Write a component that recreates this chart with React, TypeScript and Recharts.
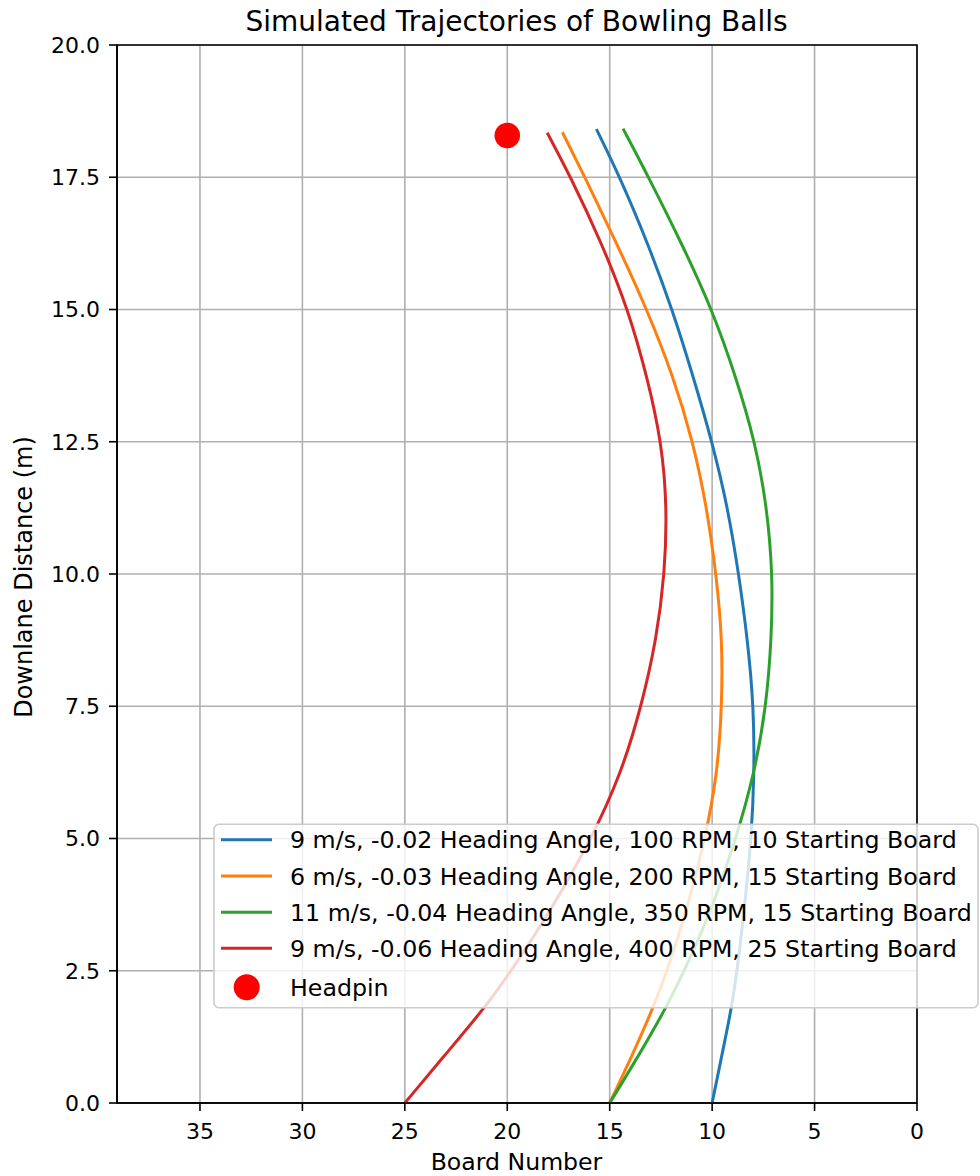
import React from 'react';
import { ComposedChart, Line, Scatter, XAxis, YAxis, CartesianGrid, ReferenceArea } from 'recharts';

// [downlane distance (m), board number]
const ball1: [number, number][] = [[0, 10], [0.95, 9.5], [1.8, 9.05], [2.5, 8.78], [3.59, 8.45], [5.0, 8.08], [6.24, 7.94], [7.5, 7.97], [8.76, 8.27], [10, 8.7], [11.28, 9.25], [12.5, 10.0], [13.74, 10.93], [15, 11.94], [16.26, 13.15], [17.5, 14.5], [18.41, 15.65]];
const ball2: [number, number][] = [[0, 15], [0.95, 13.84], [1.8, 12.88], [2.5, 12.19], [3.59, 11.27], [5.0, 10.33], [6.24, 9.74], [7.5, 9.52], [8.76, 9.5], [10, 9.8], [11.28, 10.27], [12.5, 10.93], [13.74, 11.9], [15, 13.18], [16.26, 14.67], [17.5, 16.21], [18.35, 17.31]];
const ball3: [number, number][] = [[0, 15], [0.95, 13.5], [1.8, 12.25], [2.5, 11.36], [3.59, 10.08], [5.0, 8.83], [6.24, 7.93], [7.5, 7.36], [8.76, 7.1], [10, 7.04], [11.28, 7.33], [12.5, 7.9], [13.74, 8.85], [15, 10.0], [16.26, 11.5], [17.5, 13.1], [18.42, 14.35]];
const ball4: [number, number][] = [[0, 25], [0.95, 22.95], [1.8, 21.1], [2.5, 19.8], [3.59, 17.95], [5.0, 15.88], [6.24, 14.43], [7.5, 13.45], [8.76, 12.72], [10, 12.31], [11.28, 12.2], [12.5, 12.47], [13.74, 13.18], [15, 14.1], [16.26, 15.4], [17.5, 16.9], [18.34, 18.05]];
const headpin: [number, number][] = [[18.288, 20]];

const seriesNames = [
  '9 m/s, -0.02 Heading Angle, 100 RPM, 10 Starting Board',
  '6 m/s, -0.03 Heading Angle, 200 RPM, 15 Starting Board',
  '11 m/s, -0.04 Heading Angle, 350 RPM, 15 Starting Board',
  '9 m/s, -0.06 Heading Angle, 400 RPM, 25 Starting Board',
];
const headpinName = 'Headpin';
const seriesColors = ['#1f77b4', '#ff7f0e', '#2ca02c', '#d62728'];

const boardTicks = [0, 5, 10, 15, 20, 25, 30, 35];
const distanceTicks = [0, 2.5, 5, 7.5, 10, 12.5, 15, 17.5, 20];
const boardDomain: [number, number] = [0, 39.05];
const distanceDomain: [number, number] = [0, 20];

const title = 'Simulated Trajectories of Bowling Balls';
const xLabel = 'Board Number';
const yLabel = 'Downlane Distance (m)';

const toPoints = (arr: [number, number][]) => arr.map(([d, b]) => ({ board: b, dist: d }));
const allSeries = [ball1, ball2, ball3, ball4].map(toPoints);
const headpinPoints = toPoints(headpin);

const FONT = 'DejaVu Sans, Verdana, sans-serif';

export default function App() {
  const legendRows = [839.7, 876, 912.3, 948.3];
  return (
    <div style={{ position: 'absolute', left: 0, top: 0, width: 980, height: 1176, background: '#fff' }}>
      <ComposedChart width={980} height={1176} margin={{ top: 45, right: 63, bottom: 0, left: 0 }}>
        <CartesianGrid stroke="#b0b0b0" strokeWidth={1.6} />
        <XAxis
          dataKey="board"
          type="number"
          domain={boardDomain}
          ticks={boardTicks}
          reversed
          allowDataOverflow
          height={73}
          tickSize={8}
          tickMargin={12}
          axisLine={{ stroke: '#000', strokeWidth: 1.6 }}
          tickLine={{ stroke: '#000', strokeWidth: 1.6 }}
          tick={{ fill: '#000', fontSize: 22, fontFamily: FONT }}
          interval={0}
        />
        <YAxis
          type="number"
          domain={distanceDomain}
          ticks={distanceTicks}
          allowDataOverflow
          width={117}
          tickSize={8}
          tickMargin={9}
          axisLine={{ stroke: '#000', strokeWidth: 1.6 }}
          tickLine={{ stroke: '#000', strokeWidth: 1.6 }}
          tick={{ fill: '#000', fontSize: 22, fontFamily: FONT }}
          tickFormatter={(v: number) => v.toFixed(1)}
          interval={0}
        />
        {allSeries.map((pts, i) => (
          <Line
            key={i}
            data={pts}
            dataKey="dist"
            type="basis"
            stroke={seriesColors[i]}
            strokeWidth={3}
            dot={false}
            activeDot={false}
            isAnimationActive={false}
          />
        ))}
        <Scatter
          data={headpinPoints}
          dataKey="dist"
          isAnimationActive={false}
          shape={(p: any) => <circle cx={p.cx} cy={p.cy} r={12.75} fill="#ff0000" />}
        />
        <ReferenceArea
          x1={boardDomain[0]}
          x2={boardDomain[1]}
          y1={distanceDomain[0]}
          y2={distanceDomain[1]}
          fill="none"
          fillOpacity={0}
          stroke="#000"
          strokeWidth={1.6}
        />
      </ComposedChart>
      <svg width={980} height={1176} style={{ position: 'absolute', left: 0, top: 0, pointerEvents: 'none' }}>
        <text x={516.5} y={31} textAnchor="middle" fontSize={28} fontFamily={FONT} fill="#000">{title}</text>
        <text x={516.5} y={1170} textAnchor="middle" fontSize={23.6} fontFamily={FONT} fill="#000">{xLabel}</text>
        <text x={0} y={0} transform="translate(31.5,577) rotate(-90)" textAnchor="middle" fontSize={24} fontFamily={FONT} fill="#000">{yLabel}</text>
        <rect x={214} y={824.3} width={764} height={183.4} rx={5} ry={5} fill="#ffffff" fillOpacity={0.8} stroke="#cccccc" strokeWidth={1.6} />
        {seriesNames.map((name, i) => (
          <g key={i}>
            <line x1={221} x2={272} y1={legendRows[i]} y2={legendRows[i]} stroke={seriesColors[i]} strokeWidth={3} />
            <text x={290} y={legendRows[i] + 8.5} fontSize={23.7} fontFamily={FONT} fill="#000">{name}</text>
          </g>
        ))}
        <circle cx={246.7} cy={987.3} r={13} fill="#ff0000" />
        <text x={290} y={987.3 + 8.5} fontSize={23.7} fontFamily={FONT} fill="#000">{headpinName}</text>
      </svg>
    </div>
  );
}
